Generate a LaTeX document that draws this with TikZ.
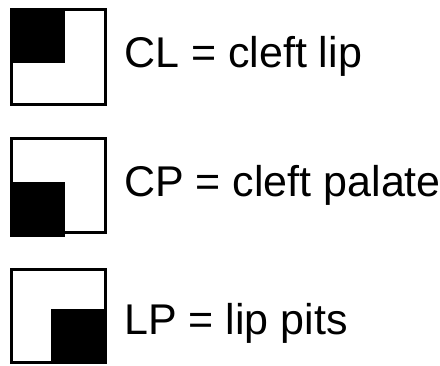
\documentclass[tikz,border=0pt]{standalone}
\usepackage{fontspec}
\setmainfont{Liberation Sans}
\begin{document}
\begin{tikzpicture}[x=1pt,y=-1pt,
  keybox/.style={draw=black,line width=3pt,fill=white},
  keyfill/.style={fill=black},
  keytext/.style={anchor=base west,inner sep=0pt,font=\fontsize{43}{49}\selectfont}]
\useasboundingbox[fill=white] (0,0) rectangle (440,366);
% cleft lip: upper left quarter
\draw[keybox] (11.5,9.5) rectangle (105.5,104.5);
\fill[keyfill] (10,8) rectangle (65,63);
\node[keytext] (cl) at (124,68) {CL = cleft lip};
% cleft palate: lower left quarter
\draw[keybox] (11.5,138.5) rectangle (105.5,232.5);
\fill[keyfill] (10,182) rectangle (65,237);
\node[keytext] (cp) at (124,197) {CP = cleft palate};
% lip pits: lower right quarter
\draw[keybox] (11.5,269.5) rectangle (105.5,362.5);
\fill[keyfill] (51,309) rectangle (107,364);
\node[keytext] (lp) at (124,335) {LP = lip pits};
\end{tikzpicture}
\end{document}
